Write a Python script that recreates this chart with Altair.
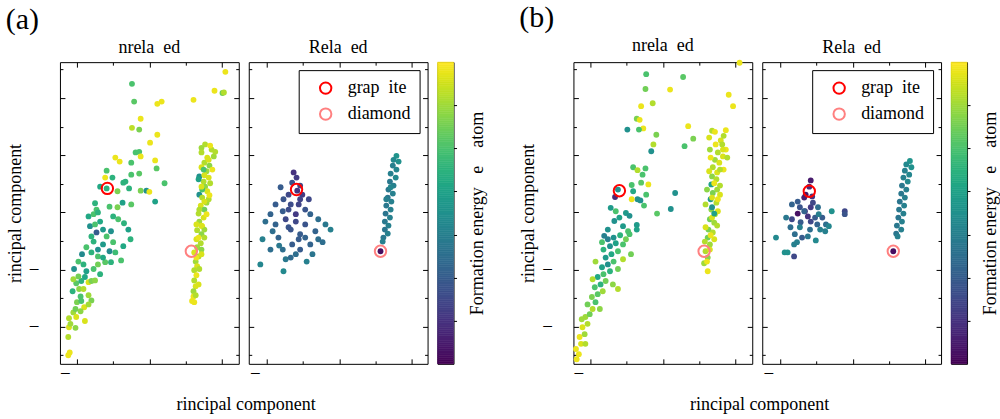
import altair as alt
import numpy as np
import pandas as pd

FONT = "Liberation Serif"
GAP = "\u2002"
MINUS = "\u2212"

# ---------------- principal-component scores (pc1, pc2, formation energy) ----------------
a_unrelaxed_upper = [
    (-0.24, 2.25, .50), (-0.21, 1.94, .52), (0.11, 1.90, .68), (0.17, 1.94, .68), (0.61, 1.97, .68),
    (0.90, 2.13, .68), (1.01, 2.09, .55), (1.03, 2.10, .62), (1.05, 2.46, .68), (-0.12, 1.64, .68),
    (-0.24, 1.48, .63), (-0.14, 1.45, .56), (0.11, 1.36, .68), (0.01, 1.22, .68), (-0.19, 1.05, .50),
    (-0.14, 1.06, .50), (-0.12, 0.98, .68), (-0.47, 0.96, .68), (-0.41, 0.89, .68), (-0.25, 0.87, .50),
    (0.08, 0.91, .68), (0.10, 0.77, .52), (-0.59, 0.73, .50), (-0.61, 0.61, .68), (-0.51, 0.61, .45),
    (-0.25, 0.66, .50), (-0.14, 0.68, .52), (-0.36, 0.52, .45), (-0.33, 0.54, .45), (-0.28, 0.42, .45),
    (-0.68, 0.45, .42), (-0.59, 0.42, .45), (-0.44, 0.37, .56), (-0.12, 0.38, .56), (-0.04, 0.38, .35),
    (0.00, 0.36, .68), (0.21, 0.51, .50), (0.08, 0.19, .40), (-0.75, 0.16, .45), (-0.73, 0.05, .50),
    (-0.55, 0.10, .50), (-0.44, 0.09, .56), (-0.37, 0.17, .40), (-0.25, 0.14, .52),
]
a_unrelaxed_lower = [
    (-1.12, -2.50, .68), (-1.10, -2.45, .68), (-1.12, -2.18, .62), (-1.11, -2.01, .66), (-1.09, -1.95, .60),
    (-1.02, -2.02, .58), (-1.11, -1.85, .62), (-0.89, -1.90, .66), (-1.05, -1.75, .60), (-1.02, -1.69, .55),
    (-0.90, -1.66, .66), (-1.00, -1.57, .56), (-0.94, -1.55, .50), (-0.80, -1.54, .56), (-0.84, -1.45, .60),
    (-0.95, -1.47, .50), (-1.06, -1.38, .45), (-0.97, -1.34, .58), (-1.01, -1.24, .52), (-0.94, -1.20, .45),
    (-0.84, -1.22, .66), (-0.98, -1.12, .55), (-0.89, -1.13, .42), (-1.04, -0.99, .35), (-0.80, -1.20, .56),
    (-0.75, -1.19, .58), (-0.68, -1.08, .45), (-0.87, -1.03, .40), (-0.77, -0.99, .50), (-0.91, -0.91, .45),
    (-0.71, -0.91, .55), (-0.61, -0.87, .52), (-0.53, -0.87, .45), (-0.39, -0.84, .50), (-0.47, -0.70, .48),
    (-0.55, -0.68, .33), (-0.93, -0.73, .33), (-0.80, -0.70, .45), (-0.71, -0.77, .50), (-0.64, -0.79, .42),
    (-0.77, -0.51, .45), (-0.64, -0.56, .38), (-0.50, -0.52, .50), (-0.36, -0.59, .42), (-0.87, -0.61, .50),
    (-0.71, -0.65, .35), (-0.26, -0.47, .45), (-0.84, -0.07, .42), (-0.77, -0.03, .50), (-0.71, 0.00, .45),
    (-0.82, -0.24, .35), (-0.75, -0.21, .50), (-0.68, -0.16, .42), (-0.64, -0.30, .38), (-0.73, -0.35, .20),
    (-0.80, -0.42, .45), (-0.59, -0.42, .50), (-0.53, -0.33, .35), (-0.35, -0.19, .45), (-0.29, -0.30, .40),
    (-0.43, -0.12, .50), (-0.50, -0.07, .45), (-0.98, -0.86, .50), (-1.05, -1.17, .60), (-0.91, -1.34, .62),
    (-0.84, -1.61, .60), (-1.01, -1.83, .66), (-0.95, -1.73, .58),
]
a_unrelaxed_band = [
    (0.77, 1.19, .62), (0.72, 1.13, .60), (0.86, 1.10, .62), (0.89, 0.98, .60), (0.72, 1.05, .62),
    (0.80, 0.96, .66), (0.76, 0.87, .62), (0.83, 0.82, .58), (0.72, 0.79, .66), (0.79, 0.72, .60),
    (0.69, 0.63, .35), (0.82, 0.61, .66), (0.75, 0.54, .62), (0.77, 0.45, .58), (0.69, 0.31, .35),
    (0.80, 0.37, .66), (0.73, 0.26, .62), (0.79, 0.17, .60), (0.71, 0.12, .66), (0.76, 0.05, .55),
    (0.68, -0.02, .62), (0.75, -0.09, .66), (0.69, -0.16, .60), (0.73, -0.24, .68), (0.66, -0.31, .62),
    (0.72, -0.38, .58), (0.65, -0.47, .66), (0.71, -0.54, .62), (0.66, -0.61, .60), (0.62, -0.70, .66),
    (0.68, -0.77, .62), (0.64, -0.86, .60), (0.66, -0.94, .66), (0.62, -1.01, .62), (0.65, -1.10, .68),
    (0.62, -1.19, .62), (0.64, -1.29, .66), (0.61, -1.38, .60), (0.61, -1.47, .68), (0.59, -1.55, .68),
    (0.73, 0.40, .50), (0.82, 0.23, .62), (0.65, -0.21, .66), (0.76, -0.30, .60), (0.72, -0.65, .58),
    (0.84, 1.17, .68), (0.91, 1.06, .62), (0.82, 0.92, .66), (0.87, 0.75, .68), (0.76, 0.65, .66),
    (0.84, 0.51, .62), (0.72, 0.45, .66), (0.83, 0.30, .68), (0.76, 0.19, .66), (0.69, 0.05, .62),
    (0.79, -0.03, .68), (0.72, -0.23, .66), (0.76, -0.44, .62), (0.68, -0.44, .68), (0.72, -0.73, .66),
    (0.65, -0.79, .68), (0.69, -0.99, .62), (0.68, -1.26, .66), (0.64, -1.45, .62), (0.62, -1.57, .68),
    (0.75, 0.75, .50), (0.68, 0.58, .40),
]
a_relaxed_cluster = [
    (-0.63, 0.70, .10), (-0.59, 0.61, .12), (-0.65, 0.52, .18), (-0.54, 0.47, .15), (-0.58, 0.38, .10),
    (-1.02, -0.16, .25), (-0.95, -0.03, .22), (-0.88, 0.14, .20), (-0.77, 0.23, .18), (-0.70, 0.05, .16),
    (-0.56, 0.14, .14), (-0.47, 0.05, .18), (-0.40, -0.03, .22), (-0.29, -0.12, .25), (-0.19, -0.21, .28),
    (-0.12, -0.30, .30), (-0.29, -0.47, .25), (-0.40, -0.56, .22), (-0.54, -0.65, .20), (-0.60, -0.73, .25),
    (-0.74, -0.82, .28), (-0.77, -1.03, .33), (-0.95, -0.65, .25), (-1.09, -0.91, .32), (-0.84, -0.44, .22),
    (-0.67, -0.30, .18), (-0.54, -0.38, .20), (-0.74, -0.12, .15), (-0.60, -0.03, .12), (-0.47, -0.21, .18),
    (-0.33, -0.33, .22), (-0.23, -0.52, .25), (-0.45, -0.86, .30), (-0.65, -0.56, .20), (-0.92, -0.33, .25),
    (-0.83, -0.58, .28), (-0.70, 0.31, .15), (-0.81, 0.44, .20), (-0.51, 0.31, .12), (-0.42, 0.23, .15),
    (-0.54, 0.23, .14), (-0.67, 0.14, .16), (-0.78, 0.02, .20), (-0.60, -0.16, .15), (-0.70, -0.26, .18),
    (-0.56, -0.47, .20), (-0.47, -0.44, .22), (-0.78, -0.65, .25), (-0.67, -0.79, .24), (-0.37, -0.73, .27),
    (-0.88, -0.21, .22), (-1.06, -0.47, .30),
]
a_relaxed_band = [
    (0.79, 0.99, .36), (0.75, 0.92, .33), (0.82, 0.89, .35), (0.74, 0.82, .30), (0.79, 0.75, .32),
    (0.71, 0.68, .30), (0.78, 0.61, .33), (0.70, 0.54, .28), (0.75, 0.47, .30), (0.68, 0.40, .28),
    (0.74, 0.33, .30), (0.67, 0.26, .27), (0.72, 0.19, .30), (0.65, 0.12, .28), (0.71, 0.05, .30),
    (0.64, -0.02, .27), (0.70, -0.09, .30), (0.63, -0.16, .28), (0.68, -0.23, .30), (0.63, -0.30, .27),
    (0.67, -0.37, .30), (0.61, -0.44, .28), (0.60, -0.51, .30), (0.65, 0.23, .30), (0.71, 0.44, .32),
    (0.57, -0.68, .02),
]

b_unrelaxed_upper = [
    (-0.23, 2.42, .50), (0.28, 2.37, .52), (-0.24, 2.16, .55), (0.10, 2.15, .68), (0.91, 2.06, .68),
    (0.97, 1.86, .68), (1.06, 2.62, .68), (-0.14, 1.91, .62), (-0.30, 1.86, .68), (-0.36, 1.64, .56),
    (-0.32, 1.62, .68), (-0.27, 1.47, .68), (-0.33, 1.45, .50), (-0.49, 1.45, .35), (-0.09, 1.36, .56),
    (0.35, 1.51, .68), (0.42, 1.29, .56), (0.30, 1.16, .50), (-0.13, 1.19, .62), (-0.16, 1.07, .35),
    (-0.41, 0.79, .50), (-0.24, 0.77, .50), (-0.35, 0.74, .62), (-0.28, 0.66, .50), (-0.30, 0.52, .52),
    (-0.20, 0.49, .68), (-0.43, 0.48, .50), (-0.62, 0.40, .35), (-0.66, 0.27, .08), (-0.41, 0.37, .42),
    (-0.23, 0.31, .50), (-0.35, 0.23, .35), (-0.31, 0.21, .35), (-0.43, 0.23, .68), (-0.26, 0.12, .50),
    (0.17, 0.34, .35), (0.11, 0.06, .35), (-0.08, -0.02, .52), (-0.72, 0.08, .38), (-0.65, 0.02, .50),
    (-0.51, -0.01, .38), (-0.46, -0.06, .35), (-0.60, -0.09, .40), (-0.67, -0.15, .35), (-0.55, -0.24, .38),
    (-0.76, -0.30, .35), (-0.81, -0.41, .30), (-0.36, -0.22, .38), (-0.36, -0.30, .40), (-0.48, -0.33, .50),
]
b_unrelaxed_lower = [
    (-1.19, -2.57, .68), (-1.16, -2.48, .68), (-1.20, -2.39, .68), (-1.13, -2.30, .66), (-1.15, -2.18, .68),
    (-1.08, -2.13, .60), (-1.11, -2.01, .66), (-1.04, -1.95, .62), (-1.07, -1.83, .60), (-1.01, -1.78, .55),
    (-0.97, -1.69, .62), (-1.04, -1.61, .55), (-0.93, -1.57, .50), (-0.98, -1.48, .56), (-0.90, -1.43, .52),
    (-0.83, -1.38, .60), (-0.94, -1.31, .50), (-0.86, -1.26, .45), (-0.79, -1.20, .55), (-0.90, -1.13, .42),
    (-0.82, -1.08, .50), (-0.73, -1.03, .45), (-0.84, -0.96, .40), (-0.76, -0.91, .35), (-0.68, -0.86, .50),
    (-0.79, -0.79, .38), (-0.71, -0.73, .42), (-0.62, -0.68, .50), (-0.82, -0.65, .45), (-0.73, -0.59, .35),
    (-0.65, -0.54, .40), (-0.55, -0.56, .50), (-0.76, -0.47, .30), (-0.68, -0.44, .35), (-0.59, -0.40, .45),
    (-0.51, -0.47, .55), (-0.46, -0.38, .50), (-0.84, -0.52, .50), (-0.93, -0.86, .60), (-0.97, -1.17, .62),
    (-0.69, -1.26, .58), (-0.62, -0.99, .55), (-0.55, -0.82, .62), (-0.87, -1.69, .58), (-1.07, -2.30, .62),
    (-1.12, -1.87, .60), (-0.62, -1.34, .62), (-0.44, -0.73, .55),
]
b_unrelaxed_band = [
    (0.68, 1.43, .62), (0.87, 1.44, .68), (0.80, 1.26, .66), (0.87, 1.10, .68), (0.76, 1.05, .62),
    (0.83, 0.98, .66), (0.72, 0.92, .60), (0.78, 0.87, .66), (0.69, 0.79, .62), (0.75, 0.70, .66),
    (0.68, 0.63, .58), (0.74, 0.58, .62), (0.67, 0.49, .40), (0.75, 0.40, .60), (0.69, 0.34, .56),
    (0.66, 0.23, .38), (0.74, 0.17, .62), (0.67, 0.05, .58), (0.72, -0.03, .62), (0.65, -0.12, .55),
    (0.71, -0.18, .60), (0.63, -0.30, .56), (0.69, -0.35, .62), (0.62, -0.44, .55), (0.65, -0.56, .60),
    (0.59, -0.68, .62), (0.62, -0.79, .58), (0.57, -0.89, .60), (0.71, -0.47, .66), (0.82, 1.19, .62),
    (0.65, 1.10, .60), (0.84, 0.75, .68), (0.79, 0.31, .66), (0.76, 0.02, .66),
    (0.64, 1.31, .66), (0.84, 1.34, .62), (0.73, 1.19, .68), (0.89, 0.96, .62), (0.66, 0.96, .68),
    (0.79, 0.75, .62), (0.64, 0.72, .66), (0.71, 0.51, .68), (0.79, 0.47, .62), (0.61, 0.40, .58),
    (0.68, 0.26, .66), (0.76, 0.23, .68), (0.59, 0.14, .62), (0.68, -0.09, .66), (0.75, -0.23, .62),
    (0.59, -0.26, .66), (0.66, -0.40, .68), (0.58, -0.51, .62), (0.65, -0.65, .66), (0.61, -0.86, .68),
    (0.62, -1.03, .68), (0.68, 0.09, .35), (0.71, -0.02, .40), (0.83, 1.10, .66), (0.72, 1.41, .68),
]
b_relaxed_cluster = [
    (-0.58, 0.56, .05), (-0.60, 0.45, .08), (-0.65, 0.31, .04), (-0.67, 0.26, .06), (-0.56, 0.28, .10),
    (-0.76, 0.19, .20), (-0.84, 0.14, .22), (-0.73, 0.09, .18), (-0.76, -0.02, .03), (-0.84, -0.12, .15),
    (-0.92, -0.09, .28), (-0.58, 0.09, .12), (-0.66, 0.02, .10), (-0.52, -0.09, .20), (-0.42, -0.09, .20),
    (-0.48, 0.09, .25), (-0.29, 0.02, .35), (-0.11, 0.02, .15), (-0.11, -0.03, .18), (-0.37, -0.21, .25),
    (-0.33, -0.24, .32), (-0.45, -0.30, .30), (-0.51, -0.49, .33), (-0.62, -0.42, .28), (-0.70, -0.44, .20),
    (-0.80, -0.38, .25), (-0.81, -0.56, .30), (-1.06, -0.44, .33), (-0.94, -0.70, .35), (-0.90, -0.70, .35),
    (-0.81, -0.77, .15), (-0.72, -0.17, .20), (-0.58, -0.16, .15), (-0.67, 0.02, .22), (-0.47, -0.03, .30),
    (-0.59, -0.30, .25), (-0.73, -0.26, .30), (-0.86, -0.26, .25), (-0.38, -0.33, .30), (-0.55, 0.17, .15),
    (-0.49, -0.21, .22), (-0.62, -0.07, .10), (-0.77, -0.52, .30),
]
b_relaxed_band = [
    (0.79, 0.90, .36), (0.74, 0.84, .33), (0.81, 0.79, .35), (0.72, 0.73, .30), (0.78, 0.66, .32),
    (0.70, 0.61, .30), (0.76, 0.54, .33), (0.68, 0.47, .28), (0.74, 0.40, .30), (0.67, 0.33, .28),
    (0.72, 0.26, .30), (0.65, 0.19, .27), (0.71, 0.12, .30), (0.64, 0.05, .28), (0.70, -0.02, .30),
    (0.63, -0.09, .27), (0.68, -0.16, .30), (0.61, -0.23, .28), (0.67, -0.30, .30), (0.60, -0.37, .27),
    (0.62, -0.42, .30), (0.56, -0.68, .02),
]

# reference structures (pc1, pc2)
PHASES = ["grap" + GAP + "ite", "diamond"]
PHASE_COLORS = ["#ff0000", "#ff8080"]
a_unrelaxed_refs = [(-0.58, 0.42), (0.58, -0.68)]
a_relaxed_refs = [(-0.59, 0.40), (0.57, -0.68)]
b_unrelaxed_refs = [(-0.60, 0.38), (0.57, -0.68)]
b_relaxed_refs = [(-0.60, 0.37), (0.56, -0.68)]

# axes
X_MAJOR = [-1, 0, 1]
X_MINOR = [-0.5, 0.5]
Y_MAJOR = [-2, -1, 0, 1, 2]
Y_MINOR = [-2.5, -1.5, -0.5, 0.5, 1.5, 2.5]
Y_DOMAIN = [-2.65, 2.63]
X_DOMAIN_UNRELAXED = [-1.235, 1.235]
X_DOMAIN_RELAXED = [-1.25, 1.22]
EF_DOMAIN = [0.0, 0.7]
EF_TICKS = [0.1, 0.2, 0.3, 0.4, 0.5, 0.6]

PANEL_W, PANEL_H = 179, 302
MAJOR_LEN, MINOR_LEN = 5, 3
NEG_LABEL = f"datum.value < 0 ? '{MINUS}' : ''"


def frame(values, orient, length, labels=False, **kw):
    return alt.Axis(orient=orient, values=values, offset=-length, tickSize=length,
                    domain=False, grid=False, labels=labels, title=kw.pop("title", None), **kw)


def panel(points, refs, x_domain, title, y_labels, legend):
    df = pd.DataFrame(points, columns=["pc1", "pc2", "ef"])
    rdf = pd.DataFrame(refs, columns=["pc1", "pc2"]).assign(phase=PHASES)
    xs = alt.Scale(domain=x_domain, nice=False, zero=False)
    ys = alt.Scale(domain=Y_DOMAIN, nice=False, zero=False)

    def enc(xaxis, yaxis):
        return dict(x=alt.X("pc1:Q", scale=xs, axis=xaxis), y=alt.Y("pc2:Q", scale=ys, axis=yaxis))

    bottom = frame(X_MAJOR, "bottom", MAJOR_LEN, labels=True, labelExpr=NEG_LABEL,
                   labelOffset=-12, labelPadding=1, labelFlush=False)
    if y_labels:
        left = frame(Y_MAJOR, "left", MAJOR_LEN, labels=True, labelExpr=NEG_LABEL,
                     labelPadding=21, title="rincipal component", titlePadding=4)
    else:
        left = frame(Y_MAJOR, "left", MAJOR_LEN)

    dots = alt.Chart(df).mark_circle(size=34, opacity=1).encode(
        color=alt.Color("ef:Q", scale=alt.Scale(scheme="viridis", domain=EF_DOMAIN), legend=None),
        **enc(bottom, left),
    )
    minor_bl = alt.Chart(rdf).mark_point(opacity=0).encode(
        **enc(frame(X_MINOR, "bottom", MINOR_LEN), frame(Y_MINOR, "left", MINOR_LEN)))
    major_tr = alt.Chart(rdf).mark_point(opacity=0).encode(
        **enc(frame(X_MAJOR, "top", MAJOR_LEN), frame(Y_MAJOR, "right", MAJOR_LEN)))
    minor_tr = alt.Chart(rdf).mark_point(opacity=0).encode(
        **enc(frame(X_MINOR, "top", MINOR_LEN), frame(Y_MINOR, "right", MINOR_LEN)))

    leg = None
    if legend:
        leg = alt.Legend(orient="top-right", title=None, offset=8, padding=9, symbolOffset=9,
                         labelOffset=13, strokeColor="black", fillColor="white", cornerRadius=0,
                         labelFont=FONT, labelFontSize=18, labelColor="black", symbolSize=130,
                         symbolStrokeWidth=2, symbolType="circle", rowPadding=6)
    rings = alt.Chart(rdf).mark_point(shape="circle", filled=False, size=130, strokeWidth=2,
                                      opacity=1).encode(
        stroke=alt.Stroke("phase:N", scale=alt.Scale(domain=PHASES, range=PHASE_COLORS), legend=leg),
        **enc(None, None),
    )
    return (
        alt.layer(dots, minor_bl, major_tr, minor_tr, rings)
        .resolve_axis(x="independent", y="independent")
        .properties(width=PANEL_W, height=PANEL_H, title=alt.TitleParams(title, offset=5))
    )


def colorbar():
    steps = np.linspace(EF_DOMAIN[0], EF_DOMAIN[1], 141)
    cdf = pd.DataFrame({"lo": steps[:-1], "hi": steps[1:], "mid": (steps[:-1] + steps[1:]) / 2})
    cscale = alt.Scale(scheme="viridis", domain=EF_DOMAIN)
    return alt.Chart(cdf).mark_rect(strokeWidth=0.6).encode(
        y=alt.Y("lo:Q", scale=alt.Scale(domain=EF_DOMAIN, nice=False, zero=False),
                axis=alt.Axis(orient="right", values=EF_TICKS, labels=False, tickSize=3, domain=False,
                              grid=False, title="Formation energy " + GAP + "e" + GAP + GAP + "atom",
                              titleAngle=270, titlePadding=29)),
        y2="hi:Q",
        color=alt.Color("mid:Q", scale=cscale, legend=None),
        stroke=alt.Stroke("mid:Q", scale=cscale, legend=None),
    ).properties(width=16, height=PANEL_H)


def group(tag, unrelaxed, relaxed, refs_u, refs_r):
    inner = alt.hconcat(
        panel(unrelaxed, refs_u, X_DOMAIN_UNRELAXED, "nrela" + GAP + "ed", True, False),
        panel(relaxed, refs_r, X_DOMAIN_RELAXED, "Rela" + GAP + "ed", False, True),
        colorbar(),
        spacing=8,
    ).resolve_scale(stroke="independent", color="independent").resolve_legend(stroke="independent")
    inner = inner.properties(title=alt.TitleParams("rincipal component", orient="bottom",
                                                   anchor="middle", offset=12))
    return alt.vconcat(inner).properties(
        title=alt.TitleParams(tag, anchor="start", fontSize=30, offset=3)
    )


chart = alt.hconcat(
    group("(a)", a_unrelaxed_upper + a_unrelaxed_lower + a_unrelaxed_band,
          a_relaxed_cluster + a_relaxed_band, a_unrelaxed_refs, a_relaxed_refs),
    group("(b)", b_unrelaxed_upper + b_unrelaxed_lower + b_unrelaxed_band,
          b_relaxed_cluster + b_relaxed_band, b_unrelaxed_refs, b_relaxed_refs),
    spacing=32,
).resolve_scale(stroke="independent", color="independent").resolve_legend(
    stroke="independent"
).properties(
    padding={"left": 5, "top": 3, "right": 0, "bottom": 0}
).configure_view(
    stroke="black", strokeWidth=1
).configure_axis(
    labelFont=FONT, labelFontSize=19, labelColor="black", titleFont=FONT, titleFontSize=18,
    titleFontWeight="normal", titleColor="black", tickColor="black", tickWidth=1
).configure_title(
    font=FONT, fontSize=18, fontWeight="normal", color="black"
)

chart.save("out.html", embed_options={"renderer": "svg", "actions": False})
